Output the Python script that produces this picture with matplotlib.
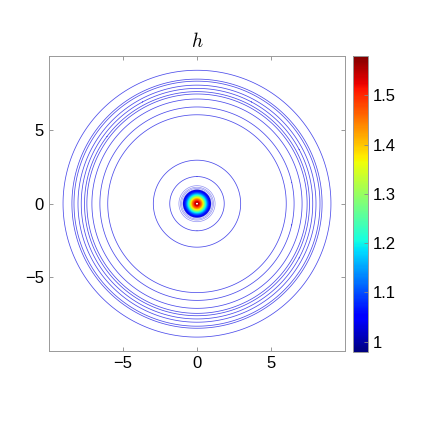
import numpy as np
import matplotlib
matplotlib.use('Agg')
import matplotlib.pyplot as plt

plt.rcParams['font.family'] = ['Liberation Sans', 'DejaVu Sans']
plt.rcParams['mathtext.fontset'] = 'cm'

# radii of the thin outer contour rings
ring_radii = [1.84, 2.95, 6.03, 6.56, 7.10, 7.44, 7.60, 7.82, 8.04, 8.31, 8.45, 9.05]
ring_color = '#4b4bea'

# radial profile of h in the central bump
core_r = [0.0, 0.10, 0.18, 0.27, 0.36, 0.45, 0.54, 0.68, 0.80, 0.95, 1.17, 1.30, 15.0]
core_h = [1.58, 1.55, 1.50, 1.45, 1.38, 1.30, 1.22, 1.12, 1.06, 1.02, 1.00, 0.995, 0.979]

h_min, h_max = 0.979, 1.58
cbar_ticks = [1, 1.1, 1.2, 1.3, 1.4, 1.5]
xy_ticks = [-5, 0, 5]

x = np.linspace(-10, 10, 1001)
X, Y = np.meshgrid(x, x)
R = np.sqrt(X**2 + Y**2)
H = np.interp(R, core_r, core_h)

fig = plt.figure(figsize=(4.23, 4.23), dpi=100)
ax = fig.add_axes([0.1158, 0.170, 0.6998, 0.697])
cax = fig.add_axes([0.8345, 0.168, 0.0355, 0.700])

cmap = plt.get_cmap('jet')
norm = plt.Normalize(h_min, h_max)

# dense contour lines of the centre bump; faint outer edge
levels = np.linspace(1.03, 1.545, 50)
ax.contour(X, Y, H, levels=levels, cmap=cmap, norm=norm, linewidths=0.8)
ax.contour(X, Y, H, levels=[0.998, 1.005, 1.012, 1.02], colors=[ring_color],
           linewidths=0.5, alpha=0.6)

# outer rings
ax.contour(X, Y, R, levels=ring_radii, colors=[ring_color], linewidths=0.55)

ax.set_xlim(-10, 10)
ax.set_ylim(-10, 10)
ax.set_xticks(xy_ticks)
ax.set_yticks(xy_ticks)
ax.tick_params(direction='in', top=True, right=True, labelsize=12, length=3,
               color='#888888', width=0.6)
for s in ax.spines.values():
    s.set_color('#999999')
    s.set_linewidth(0.7)
ax.set_title('$h$', fontsize=14, pad=7)

sm = matplotlib.cm.ScalarMappable(norm=norm, cmap=cmap)
cb = fig.colorbar(sm, cax=cax)
cb.set_ticks(cbar_ticks)
cb.set_ticklabels(['1', '1.1', '1.2', '1.3', '1.4', '1.5'])
cb.ax.tick_params(direction='in', labelsize=12, length=3, color='#888888', width=0.6)
cb.outline.set_edgecolor('#999999')
cb.outline.set_linewidth(0.7)

fig.savefig('out.png', dpi=100)
